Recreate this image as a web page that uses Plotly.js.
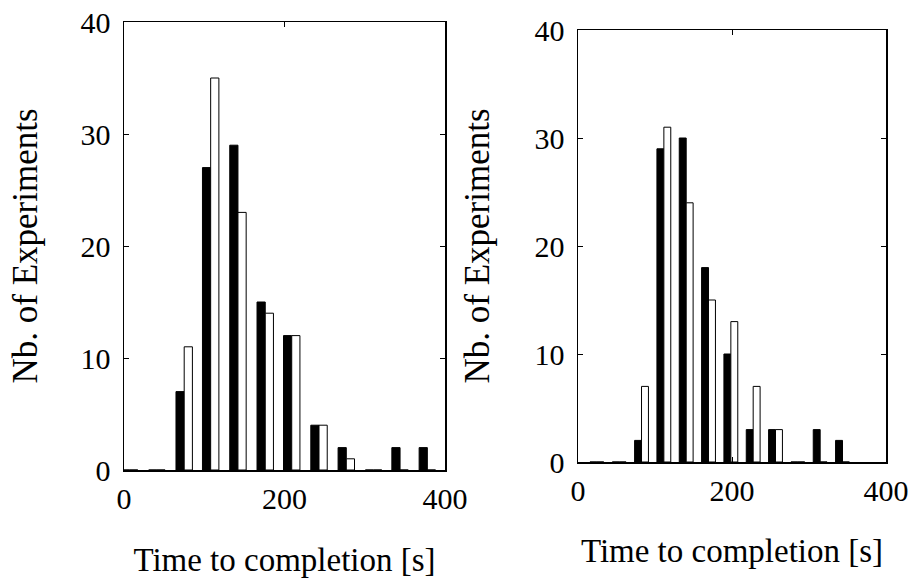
<!DOCTYPE html>
<html>
<head>
<meta charset="utf-8">
<script src="https://cdn.plot.ly/plotly-3.0.1.min.js"></script>
<style>html,body{margin:0;padding:0;background:#fff;}#chart{width:913px;height:578px;}</style>
</head>
<body>
<div id="chart"></div>
<script>
// Left panel: bin centres (s) and counts
const binsLeft = [7, 41, 75, 108, 142, 176, 209, 243, 277, 311, 344, 378];
const blackLeft = [0, 0, 7, 27, 29, 15, 12, 4, 2, 0, 2, 2];
const whiteLeft = [0, 0, 11, 35, 23, 14, 12, 4, 1, 0, 0, 0];

// Right panel: bin centres (s) and counts
const binsRight = [24.5, 53.5, 82.5, 111.5, 140.5, 169.5, 198.5, 227.5, 256.5, 285.5, 314.5, 343.5];
const blackRight = [0, 0, 2, 29, 30, 18, 10, 3, 3, 0, 3, 2];
const whiteRight = [0, 0, 7, 31, 24, 15, 13, 7, 3, 0, 0, 0];

const xTicks = [0, 200, 400];
const yTicks = [0, 10, 20, 30, 40];
const xTitle = 'Time to completion [s]';
const yTitle = 'Nb. of Experiments';

const FONT = 'Liberation Serif, Times New Roman, serif';

function barTrace(x, y, fill, xa, ya) {
  return {
    type: 'bar', x: x, y: y, xaxis: xa, yaxis: ya,
    marker: {color: fill, line: {color: '#000', width: 1}},
    showlegend: false, hoverinfo: 'x+y'
  };
}

const data = [
  barTrace(binsLeft, blackLeft, '#000', 'x', 'y'),
  barTrace(binsLeft, whiteLeft, '#fff', 'x', 'y'),
  barTrace(binsRight, blackRight, '#000', 'x2', 'y2'),
  barTrace(binsRight, whiteRight, '#fff', 'x2', 'y2')
];

function xAxis(domain, anchor, standoff) {
  return {
    domain: domain, anchor: anchor, range: [0, 400],
    tickvals: xTicks, ticktext: xTicks.map(String),
    ticks: 'inside', ticklen: 5, tickcolor: '#000', tickwidth: 1,
    showline: true, linecolor: '#000', linewidth: 1.5, mirror: 'ticks',
    showgrid: false, zeroline: false,
    tickfont: {family: FONT, size: 30, color: '#000'},
    ticklabelstandoff: 1,
    title: {text: xTitle, font: {family: FONT, size: 33, color: '#000'}, standoff: standoff},
    automargin: false, fixedrange: true
  };
}
function yAxis(domain, anchor, standoff) {
  return {
    domain: domain, anchor: anchor, range: [0, 40],
    tickvals: yTicks, ticktext: yTicks.map(String),
    ticks: 'inside', ticklen: 5, tickcolor: '#000', tickwidth: 1,
    showline: true, linecolor: '#000', linewidth: 1.5, mirror: 'ticks',
    showgrid: false, zeroline: false,
    tickfont: {family: FONT, size: 30, color: '#000'},
    ticklabelstandoff: 6,
    title: {text: yTitle, font: {family: FONT, size: 35, color: '#000'}, standoff: standoff},
    automargin: false, fixedrange: true
  };
}

const layout = {
  width: 913, height: 578,
  margin: {l: 0, r: 0, t: 0, b: 0},
  paper_bgcolor: '#fff', plot_bgcolor: '#fff',
  barmode: 'group', bargap: 0.38, bargroupgap: 0,
  xaxis: xAxis([124/913, 445/913], 'y', 39),
  yaxis: yAxis([(578-470)/578, (578-22)/578], 'x', 32),
  xaxis2: xAxis([578/913, 886/913], 'y2', 33),
  yaxis2: yAxis([(578-462)/578, (578-30)/578], 'x2', 34)
};

Plotly.newPlot('chart', data, layout, {displayModeBar: false, staticPlot: true});
</script>
</body>
</html>
